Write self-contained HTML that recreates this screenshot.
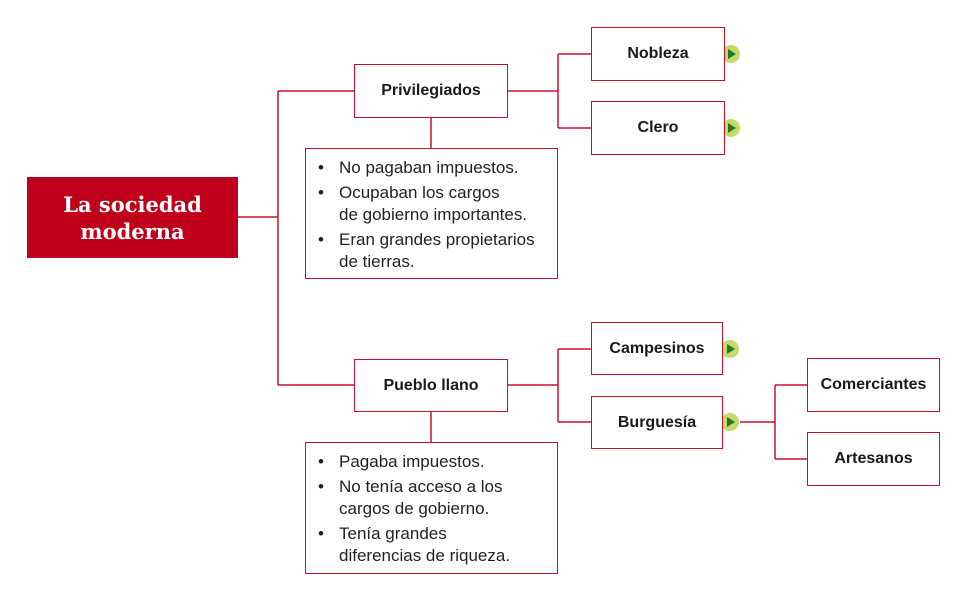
<!DOCTYPE html>
<html><head><meta charset="utf-8"><style>
body{margin:0;width:965px;height:598px;background:#fff;position:relative;overflow:hidden;font-family:"Liberation Sans",sans-serif;}
.b{position:absolute;box-sizing:border-box;border:1.5px solid #c8102e;background:#fff;display:flex;align-items:center;justify-content:center;font-weight:bold;font-size:16px;color:#1a1a1a;}
.l{position:absolute;box-sizing:border-box;border:1.5px solid #c8102e;background:#fff;font-size:17px;color:#222;padding:8px 0 0 0;}
.l div{position:relative;padding-left:33px;line-height:22px;margin-bottom:3px;}
.l div:before{content:"•";position:absolute;left:12px;}
</style></head><body>
<svg width="965" height="598" style="position:absolute;left:0;top:0">
<g stroke="#c8102e" stroke-width="1.5" fill="none">
<path d="M238 217H278M278 91V385M278 91H354M278 385H354"/>
<path d="M508 91H558M558 54V128M558 54H591M558 128H591M431 118V148"/>
<path d="M508 385H558M558 349V422M558 349H591M558 422H591M431 412V442"/>
<path d="M740 422H775M775 385V459M775 385H807M775 459H807"/>
</g>
<g fill="#c8d96a"><circle cx="731" cy="54" r="9"/><circle cx="731" cy="128" r="9"/><circle cx="730" cy="349" r="9"/><circle cx="730" cy="422" r="9"/></g>
<g fill="#1a7a2e"><path d="M728 49L736 54L728 59Z"/><path d="M728 123L736 128L728 133Z"/><path d="M727 344L735 349L727 354Z"/><path d="M727 417L735 422L727 427Z"/></g>
</svg>
<div style="position:absolute;left:27px;top:177px;width:211px;height:81px;background:#c0001a;color:#fff;font-family:'DejaVu Serif','Liberation Serif',serif;font-weight:bold;font-size:21px;line-height:27px;display:flex;align-items:center;justify-content:center;text-align:center">La sociedad<br>moderna</div>
<div class="b" style="left:354px;top:64px;width:154px;height:54px">Privilegiados</div>
<div class="b" style="left:591px;top:27px;width:134px;height:54px">Nobleza</div>
<div class="b" style="left:591px;top:101px;width:134px;height:54px">Clero</div>
<div class="b" style="left:354px;top:359px;width:154px;height:53px">Pueblo llano</div>
<div class="b" style="left:591px;top:322px;width:132px;height:53px">Campesinos</div>
<div class="b" style="left:591px;top:396px;width:132px;height:53px">Burguesía</div>
<div class="b" style="left:807px;top:358px;width:133px;height:54px">Comerciantes</div>
<div class="b" style="left:807px;top:432px;width:133px;height:54px">Artesanos</div>
<div class="l" style="left:305px;top:148px;width:253px;height:131px">
<div>No pagaban impuestos.</div><div>Ocupaban los cargos<br>de gobierno importantes.</div><div>Eran grandes propietarios<br>de tierras.</div></div>
<div class="l" style="left:305px;top:442px;width:253px;height:132px">
<div>Pagaba impuestos.</div><div>No tenía acceso a los<br>cargos de gobierno.</div><div>Tenía grandes<br>diferencias de riqueza.</div></div>
</body></html>
